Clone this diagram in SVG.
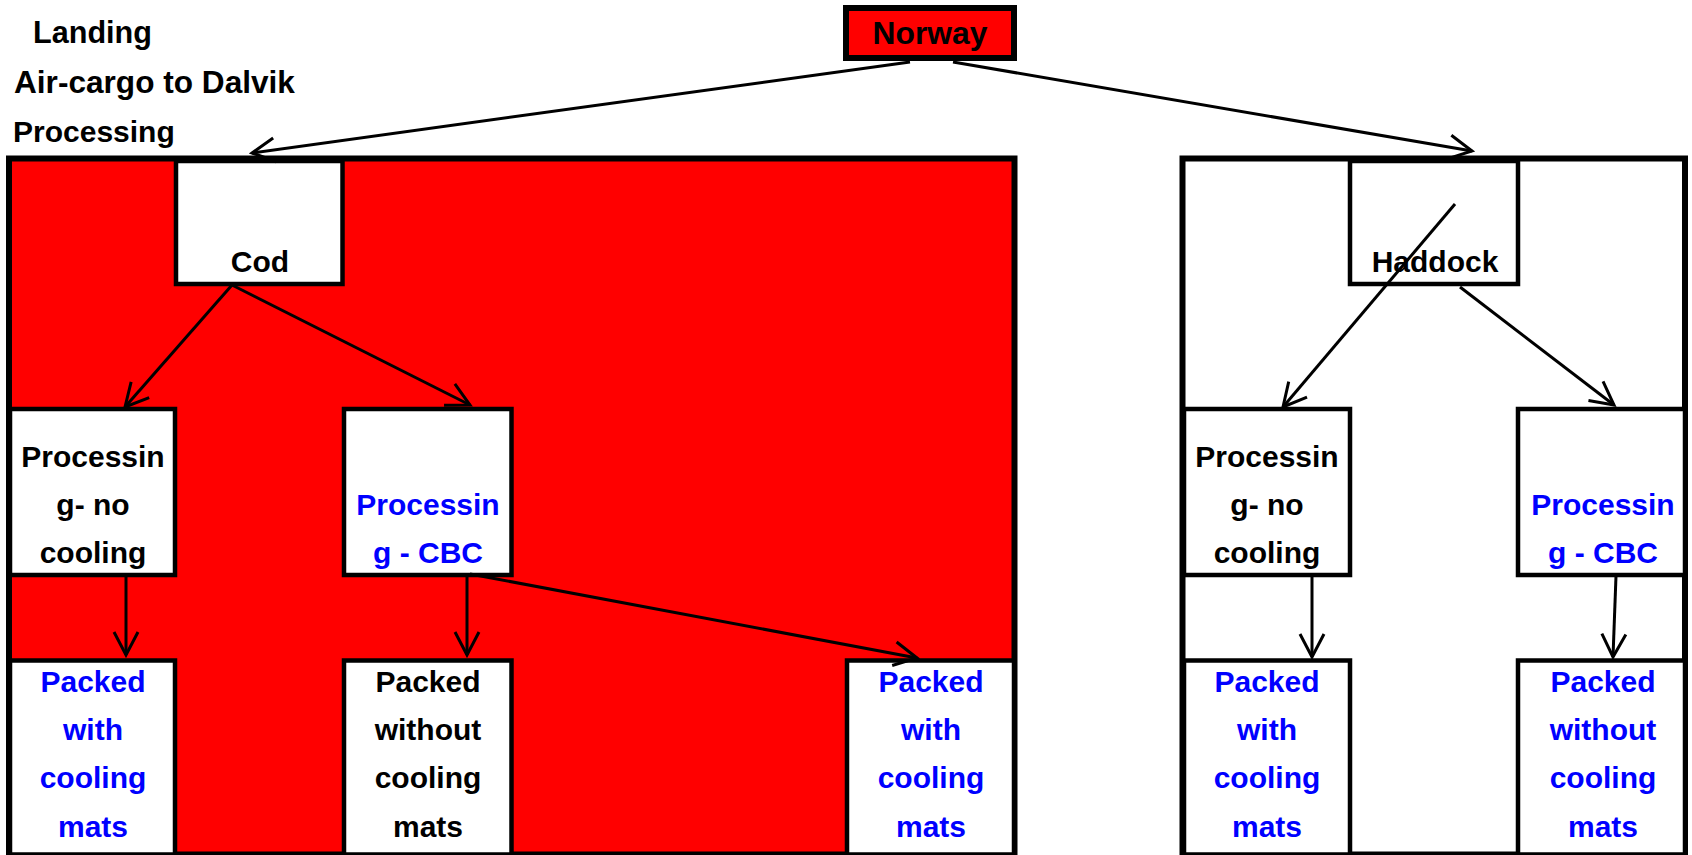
<svg xmlns="http://www.w3.org/2000/svg" width="1692" height="855" viewBox="0 0 1692 855">
<style>
text{font-family:"Liberation Sans",Arial,sans-serif;font-weight:bold;font-size:30px;fill:#000}
.c{text-anchor:middle}
.b{fill:#0000FF}
.outer{stroke:#000;stroke-width:6}
.box{fill:#fff;stroke:#000;stroke-width:4.5}
.conn line{stroke:#000;stroke-width:3;marker-end:url(#arr)}
</style>
<defs>
<marker id="arr" markerUnits="userSpaceOnUse" viewBox="-27 -15 30 30" markerWidth="30" markerHeight="30" refX="0" refY="0" orient="auto">
<path d="M-23,-12 L0,0 L-23,12" fill="none" stroke="#000" stroke-width="3"/>
</marker>
</defs>
<rect width="1692" height="855" fill="#fff"/>
<g id="stage-labels">
<text x="33" y="43" style="font-size:30.6px">Landing</text>
<text x="14" y="93" style="font-size:31.6px">Air-cargo to Dalvik</text>
<text x="13" y="142">Processing</text>
</g>
<g id="norway">
<rect x="846" y="8" width="168" height="50" fill="#FF0000" stroke="#000" stroke-width="6"/>
<text class="c" x="930" y="44" style="font-size:31.8px">Norway</text>
</g>
<g id="cod-area">
<rect class="outer" x="9" y="158.5" width="1005.5" height="696" fill="#FF0000"/>
</g>
<g id="haddock-area">
<rect class="outer" x="1182.5" y="158.5" width="502.5" height="696" fill="#fff"/>
</g>
<g id="cod">
<rect class="box" x="176" y="161" width="166.5" height="123"/>
<text class="c" x="260" y="272">Cod</text>
</g>
<g id="cod-proc-nocool">
<rect class="box" x="10" y="409" width="165" height="166"/>
<text class="c" x="93" y="467">Processin</text>
<text class="c" x="93" y="515">g- no</text>
<text class="c" x="93" y="563">cooling</text>
</g>
<g id="cod-proc-cbc">
<rect class="box" x="344" y="409" width="167.5" height="166"/>
<text class="c b" x="428" y="515">Processin</text>
<text class="c b" x="428" y="563">g - CBC</text>
</g>
<g id="cod-packed-with-1">
<rect class="box" x="10" y="660.5" width="165" height="194"/>
<text class="c b" x="93" y="692">Packed</text>
<text class="c b" x="93" y="740">with</text>
<text class="c b" x="93" y="788">cooling</text>
<text class="c b" x="93" y="837">mats</text>
</g>
<g id="cod-packed-without">
<rect class="box" x="344" y="660.5" width="167.5" height="194"/>
<text class="c" x="428" y="692">Packed</text>
<text class="c" x="428" y="740">without</text>
<text class="c" x="428" y="788">cooling</text>
<text class="c" x="428" y="837">mats</text>
</g>
<g id="cod-packed-with-2">
<rect class="box" x="847" y="660.5" width="167" height="194"/>
<text class="c b" x="931" y="692">Packed</text>
<text class="c b" x="931" y="740">with</text>
<text class="c b" x="931" y="788">cooling</text>
<text class="c b" x="931" y="837">mats</text>
</g>
<g id="haddock">
<rect class="box" x="1350" y="161" width="168" height="123"/>
<text class="c" x="1435" y="272">Haddock</text>
</g>
<g id="haddock-proc-nocool">
<rect class="box" x="1184" y="409" width="166" height="166"/>
<text class="c" x="1267" y="467">Processin</text>
<text class="c" x="1267" y="515">g- no</text>
<text class="c" x="1267" y="563">cooling</text>
</g>
<g id="haddock-proc-cbc">
<rect class="box" x="1518" y="409" width="167" height="166"/>
<text class="c b" x="1603" y="515">Processin</text>
<text class="c b" x="1603" y="563">g - CBC</text>
</g>
<g id="haddock-packed-with">
<rect class="box" x="1184" y="660.5" width="166" height="194"/>
<text class="c b" x="1267" y="692">Packed</text>
<text class="c b" x="1267" y="740">with</text>
<text class="c b" x="1267" y="788">cooling</text>
<text class="c b" x="1267" y="837">mats</text>
</g>
<g id="haddock-packed-without">
<rect class="box" x="1518" y="660.5" width="167" height="194"/>
<text class="c b" x="1603" y="692">Packed</text>
<text class="c b" x="1603" y="740">without</text>
<text class="c b" x="1603" y="788">cooling</text>
<text class="c b" x="1603" y="837">mats</text>
</g>
<g id="connectors" class="conn">
<line x1="910" y1="62" x2="252" y2="153"/>
<line x1="953" y1="62" x2="1472" y2="151"/>
<line x1="232" y1="285" x2="125" y2="407"/>
<line x1="232" y1="285" x2="470" y2="405"/>
<line x1="126" y1="576" x2="126" y2="655"/>
<line x1="467" y1="576" x2="467" y2="655"/>
<line x1="470" y1="574" x2="917" y2="658"/>
<line x1="1455" y1="204" x2="1283" y2="407"/>
<line x1="1460" y1="287" x2="1614" y2="405"/>
<line x1="1312" y1="576" x2="1312" y2="657"/>
<line x1="1616" y1="576" x2="1613" y2="657"/>
</g>
</svg>
